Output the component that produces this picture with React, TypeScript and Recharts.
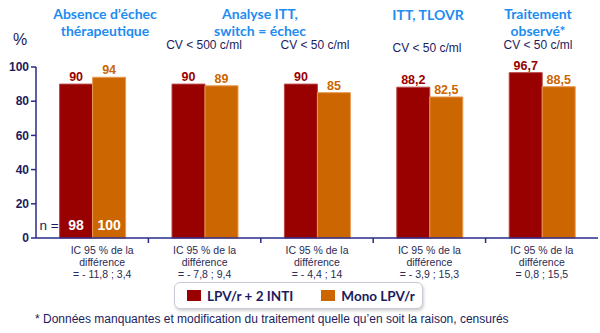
import React from "react";
import { BarChart, Bar, XAxis, YAxis, LabelList } from "recharts";

const categories = ["absence", "itt500", "itt50", "tlovr", "observe"];
const lpvInti = [90, 90, 90, 88.2, 96.7];
const monoLpv = [94, 89, 85, 82.5, 88.5];
const nLpv = [98, null, null, null, null];
const nMono = [100, null, null, null, null];
const icLines = [
  ["IC 95 % de la", "différence", "= - 11,8 ; 3,4"],
  ["IC 95 % de la", "différence", "= - 7,8 ; 9,4"],
  ["IC 95 % de la", "différence", "= - 4,4 ; 14"],
  ["IC 95 % de la", "différence", "= - 3,9 ; 15,3"],
  ["IC 95 % de la", "différence", "= 0,8 ; 15,5"],
];
const yTicks = [0, 20, 40, 60, 80, 100];
const seriesNames = ["LPV/r + 2 INTI", "Mono LPV/r"];

const headers = [
  { lines: ["Absence d’échec", "thérapeutique"], x: 105, y: 5 },
  { lines: ["Analyse ITT,", "switch = échec"], x: 260, y: 5 },
  { lines: ["ITT, TLOVR"], x: 428, y: 6 },
  { lines: ["Traitement", "observé*"], x: 538, y: 5 },
];
const cvLabels = [
  { text: "CV < 500 c/ml", x: 204, y: 45 },
  { text: "CV < 50 c/ml", x: 315, y: 45 },
  { text: "CV < 50 c/ml", x: 427, y: 48 },
  { text: "CV < 50 c/ml", x: 538, y: 45 },
];

const RED = "#990000";
const ORANGE = "#cc6600";
const NAVY = "#1c1c5e";
const AXIS = "#2a2a88";
const SANS = "Liberation Sans, Arial, sans-serif";

const data = categories.map((c, i) => ({
  cat: c,
  lpv: lpvInti[i],
  mono: monoLpv[i],
  nLpv: nLpv[i],
  nMono: nMono[i],
}));

const fmt = (v: any) => (v == null ? "" : String(v).replace(".", ","));

function IcTick(props: any) {
  const { x, payload, index } = props;
  const half = payload?.offset ?? 56;
  const lines = icLines[index] || [];
  const dx = index === 0 ? 10 : 0;
  return (
    <g>
      {index > 0 && <line x1={x - half} x2={x - half} y1={238} y2={243} stroke={AXIS} strokeWidth={1.5} />}
      {lines.map((l, k) => (
        <text
          key={k}
          x={x + dx}
          y={250 + k * 12}
          textAnchor="middle"
          dominantBaseline="central"
          fontFamily={SANS}
          fontSize={10.5}
          fill="#2b2b55"
        >
          {l}
        </text>
      ))}
    </g>
  );
}

function NLabel(props: any) {
  const { x, y, width, height, value, index } = props;
  if (value == null) return null;
  const cx = x + width / 2;
  const by = y + height - 13;
  return (
    <g fontFamily={SANS}>
      {index === 0 && props.showN && (
        <text x={x - 1} y={by} textAnchor="end" dominantBaseline="central" fontSize={13.5} fill={NAVY}>
          n =
        </text>
      )}
      <text x={cx} y={by} textAnchor="middle" dominantBaseline="central" fontSize={14} fontWeight="bold" fill="#fff">
        {value}
      </text>
    </g>
  );
}

function LegendBox() {
  const item = (color: string, label: string) => (
    <div style={{ display: "flex", alignItems: "center", gap: 6, whiteSpace: "nowrap" }}>
      <div style={{ width: 14, height: 11, background: color }} />
      <span style={{ fontFamily: "Lato, sans-serif", fontWeight: 700, fontSize: 13.5, color: NAVY }}>{label}</span>
    </div>
  );
  return (
    <div
      style={{
        position: "absolute",
        left: 174,
        top: 282,
        boxSizing: "border-box",
        width: 249,
        height: 27,
        border: "1px solid #c9c9d6",
        borderRadius: 6,
        boxShadow: "1px 2px 3px rgba(0,0,0,0.18)",
        background: "#fff",
        display: "flex",
        alignItems: "center",
        gap: 28,
        paddingLeft: 12,
      }}
    >
      {item(RED, seriesNames[0])}
      {item(ORANGE, seriesNames[1])}
    </div>
  );
}

export default function App() {
  return (
    <div style={{ position: "absolute", left: 0, top: 0, width: 600, height: 333, background: "#fff" }}>
      <BarChart
        width={600}
        height={333}
        data={data}
        margin={{ top: 67, right: 2, left: 0, bottom: 94 }}
        barCategoryGap="21%"
        barGap={0}
      >
        <YAxis
          width={36}
          domain={[0, 100]}
          ticks={yTicks}
          interval={0}
          axisLine={{ stroke: AXIS, strokeWidth: 1.5 }}
          tickLine={{ stroke: AXIS, strokeWidth: 1.5 }}
          tickSize={5}
          tick={{ fill: NAVY, fontSize: 12, fontWeight: "bold", fontFamily: SANS }}
        />
        <XAxis
          dataKey="cat"
          interval={0}
          height={1}
          axisLine={{ stroke: AXIS, strokeWidth: 1.5 }}
          tickLine={false}
          tick={<IcTick />}
        />
        <Bar dataKey="lpv" name={seriesNames[0]} fill={RED} stroke="#b84545" strokeWidth={1} isAnimationActive={false}>
          <LabelList
            dataKey="lpv"
            position="top"
            offset={3}
            formatter={fmt}
            style={{ fill: RED, fontSize: 12.5, fontWeight: "bold", fontFamily: SANS }}
          />
          <LabelList dataKey="nLpv" content={(p: any) => <NLabel {...p} showN />} />
        </Bar>
        <Bar dataKey="mono" name={seriesNames[1]} fill={ORANGE} stroke="#e89a55" strokeWidth={1} isAnimationActive={false}>
          <LabelList
            dataKey="mono"
            position="top"
            offset={3}
            formatter={fmt}
            style={{ fill: ORANGE, fontSize: 12.5, fontWeight: "bold", fontFamily: SANS }}
          />
          <LabelList dataKey="nMono" content={(p: any) => <NLabel {...p} />} />
        </Bar>
      </BarChart>

      <LegendBox />

      <div style={{ position: "absolute", left: 13, top: 31, fontFamily: SANS, fontSize: 16, color: NAVY }}>%</div>
      {headers.map((h, i) => (
        <div
          key={i}
          style={{
            position: "absolute",
            left: h.x,
            top: h.y,
            transform: "translateX(-50%)",
            textAlign: "center",
            whiteSpace: "nowrap",
            fontFamily: "Lato, sans-serif",
            fontWeight: 700,
            fontSize: 14,
            lineHeight: "17px",
            color: "#1e8cf0",
          }}
        >
          {h.lines.map((l, k) => (
            <div key={k}>{l}</div>
          ))}
        </div>
      ))}
      {cvLabels.map((c, i) => (
        <div
          key={i}
          style={{
            position: "absolute",
            left: c.x,
            top: c.y - 8,
            transform: "translateX(-50%)",
            whiteSpace: "nowrap",
            fontFamily: SANS,
            fontSize: 12,
            lineHeight: "16px",
            color: NAVY,
          }}
        >
          {c.text}
        </div>
      ))}
      <div
        style={{
          position: "absolute",
          left: 35,
          top: 312,
          whiteSpace: "nowrap",
          fontFamily: SANS,
          fontSize: 12,
          lineHeight: "14px",
          color: NAVY,
        }}
      >
        * Données manquantes et modification du traitement quelle qu’en soit la raison, censurés
      </div>
    </div>
  );
}
